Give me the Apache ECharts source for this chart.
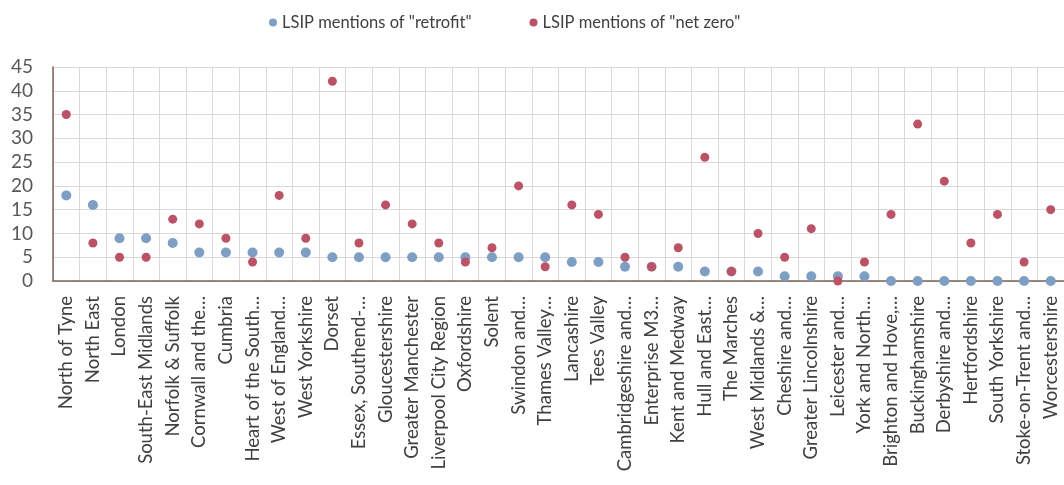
<!DOCTYPE html>
<html>
<head>
<meta charset="utf-8">
<script src="https://cdn.jsdelivr.net/npm/echarts@6/dist/echarts.min.js"></script>
<style>
  html, body { margin: 0; padding: 0; background: #fff; }
  #chart { width: 1064px; height: 485px; }
</style>
</head>
<body>
<div id="chart"></div>
<script>
// LSIP mentions of retrofit / net zero, by area
var areas = [
  'North of Tyne', 'North East', 'London', 'South-East Midlands', 'Norfolk & Suffolk',
  'Cornwall and the…', 'Cumbria', 'Heart of the South…', 'West of England…', 'West Yorkshire',
  'Dorset', 'Essex, Southend-…', 'Gloucestershire', 'Greater Manchester', 'Liverpool City Region',
  'Oxfordshire', 'Solent', 'Swindon and…', 'Thames Valley…', 'Lancashire',
  'Tees Valley', 'Cambridgeshire and…', 'Enterprise M3…', 'Kent and Medway', 'Hull and East…',
  'The Marches', 'West Midlands &…', 'Cheshire and…', 'Greater Lincolnshire', 'Leicester and…',
  'York and North…', 'Brighton and Hove,…', 'Buckinghamshire', 'Derbyshire and…', 'Hertfordshire',
  'South Yorkshire', 'Stoke-on-Trent and…', 'Worcestershire'
];
var retrofit = [18, 16, 9, 9, 8, 6, 6, 6, 6, 6, 5, 5, 5, 5, 5, 5, 5, 5, 5, 4, 4, 3, 3, 3, 2, 2, 2, 1, 1, 1, 1, 0, 0, 0, 0, 0, 0, 0];
var netZero = [35, 8, 5, 5, 13, 12, 9, 4, 18, 9, 42, 8, 16, 12, 8, 4, 7, 20, 3, 16, 14, 5, 3, 7, 26, 2, 10, 5, 11, 0, 4, 14, 33, 21, 8, 14, 4, 15];
var yTicks = [0, 45, 5]; // min, max, step

var font = 'Lato, "Open Sans", sans-serif';
var myChart = echarts.init(document.getElementById('chart'));
var option = {
  backgroundColor: '#fff',
  animation: false,
  textStyle: { fontFamily: font },
  legend: {
    top: 9,
    left: 264,
    itemGap: 58,
    itemWidth: 8,
    itemHeight: 8,
    textStyle: { color: '#404040', fontSize: 16.5, fontFamily: font },
    data: [
      { name: 'LSIP mentions of "retrofit"', icon: 'circle' },
      { name: 'LSIP mentions of "net zero"', icon: 'circle' }
    ]
  },
  grid: { left: 53, right: -11, top: 67, bottom: 204 },
  xAxis: {
    type: 'category',
    data: areas,
    boundaryGap: true,
    axisLine: { lineStyle: { color: '#7a6558', width: 1.5 } },
    axisTick: { show: false },
    splitLine: { show: true, interval: 0, lineStyle: { color: '#d9d9d9' } },
    axisLabel: {
      interval: 0,
      rotate: 90,
      margin: 15,
      color: '#404040',
      fontSize: 18.5,
      fontFamily: font
    }
  },
  yAxis: {
    type: 'value',
    min: yTicks[0],
    max: yTicks[1],
    interval: yTicks[2],
    axisLine: { show: true, lineStyle: { color: '#7a6558', width: 1.5 } },
    axisTick: { show: false },
    splitLine: { lineStyle: { color: '#d9d9d9' } },
    axisLabel: { color: '#595959', fontSize: 19, margin: 20, fontFamily: font }
  },
  series: [
    {
      name: 'LSIP mentions of "retrofit"',
      type: 'scatter',
      symbolSize: 10,
      itemStyle: { color: '#7f9ec4', opacity: 1 },
      data: retrofit
    },
    {
      name: 'LSIP mentions of "net zero"',
      type: 'scatter',
      symbolSize: 9,
      itemStyle: { color: '#bb5265', opacity: 1 },
      data: netZero
    }
  ]
};
myChart.setOption(option);
</script>
</body>
</html>
